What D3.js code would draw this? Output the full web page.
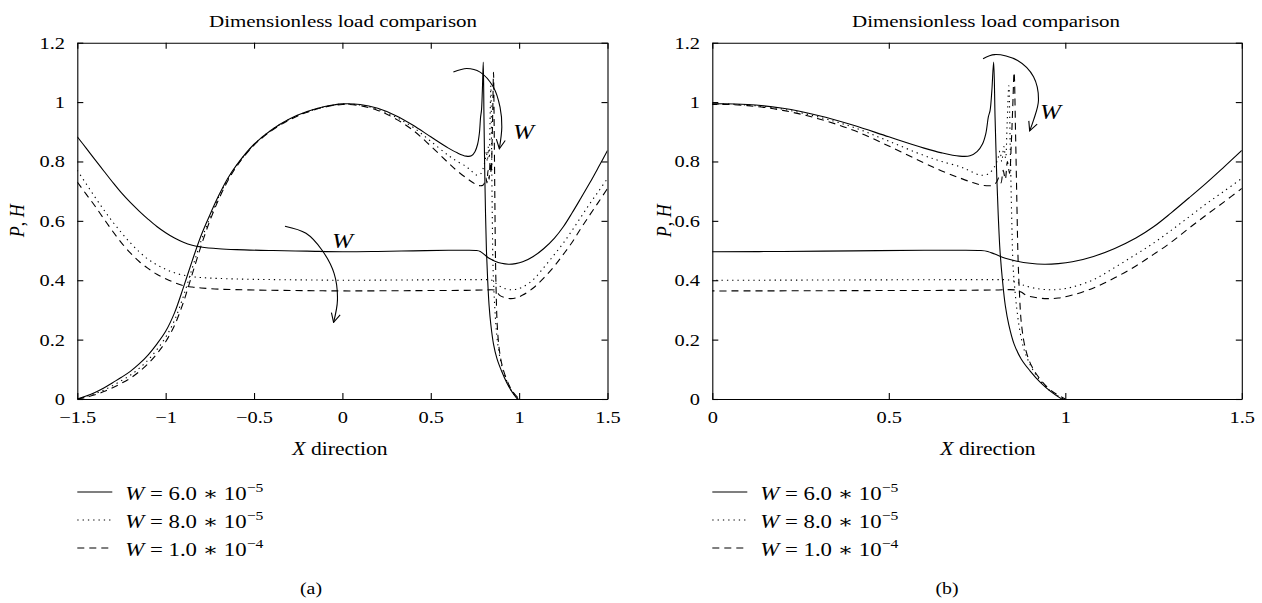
<!DOCTYPE html>
<html>
<head>
<meta charset="utf-8">
<script src="https://cdn.jsdelivr.net/npm/d3@7"></script>
<style>
body { margin: 0; background: #fff; }
text { font-family: "Liberation Serif", "DejaVu Serif", serif; fill: #000; }
</style>
</head>
<body>
<div id="plot"></div>
<script>
// pressure P, one array of [x, P] per load
let pressure60 = [[-1.5,0],[-1.45,0.01],[-1.4,0.022],[-1.35,0.037],[-1.3,0.055],[-1.25,0.073],[-1.2,0.093],[-1.15,0.118],[-1.1,0.148],[-1.05,0.185],[-1.0,0.228],[-0.95,0.29],[-0.9,0.375],[-0.85,0.465],[-0.8,0.55],[-0.75,0.62],[-0.7,0.685],[-0.65,0.742],[-0.6,0.787],[-0.5,0.858],[-0.4,0.907],[-0.3,0.943],[-0.2,0.968],[-0.1,0.985],[0,0.994],[0.1,0.992],[0.2,0.979],[0.3,0.955],[0.4,0.922],[0.5,0.883],[0.6,0.845],[0.65,0.829],[0.7,0.818],[0.73,0.819],[0.75,0.833],[0.765,0.858],[0.775,0.895],[0.782,0.95],[0.787,0.972],[0.792,1.04],[0.797,1.135],[0.801,0.95],[0.805,0.78],[0.81,0.62],[0.815,0.5],[0.822,0.4],[0.83,0.315],[0.84,0.25],[0.855,0.185],[0.875,0.135],[0.9,0.095],[0.93,0.055],[0.96,0.024],[0.99,0]];
let pressure80 = [[-1.5,0],[-1.45,0.008],[-1.4,0.018],[-1.35,0.03],[-1.3,0.045],[-1.25,0.062],[-1.2,0.08],[-1.15,0.103],[-1.1,0.131],[-1.05,0.166],[-1.0,0.208],[-0.95,0.265],[-0.9,0.345],[-0.85,0.44],[-0.8,0.532],[-0.75,0.61],[-0.7,0.68],[-0.65,0.738],[-0.6,0.785],[-0.5,0.857],[-0.4,0.906],[-0.3,0.942],[-0.2,0.967],[-0.1,0.984],[0,0.993],[0.1,0.99],[0.2,0.976],[0.3,0.95],[0.4,0.915],[0.5,0.868],[0.6,0.82],[0.65,0.8],[0.7,0.783],[0.73,0.768],[0.76,0.754],[0.78,0.757],[0.795,0.774],[0.808,0.805],[0.815,0.835],[0.82,0.8],[0.826,0.85],[0.831,0.81],[0.835,0.92],[0.84,1.055],[0.844,0.85],[0.848,0.62],[0.852,0.45],[0.857,0.37],[0.863,0.3],[0.872,0.225],[0.885,0.16],[0.905,0.105],[0.93,0.06],[0.96,0.025],[0.995,0]];
let pressure100 = [[-1.5,0],[-1.45,0.006],[-1.4,0.014],[-1.35,0.025],[-1.3,0.038],[-1.25,0.053],[-1.2,0.07],[-1.15,0.092],[-1.1,0.119],[-1.05,0.152],[-1.0,0.193],[-0.95,0.248],[-0.9,0.325],[-0.85,0.42],[-0.8,0.515],[-0.75,0.6],[-0.7,0.672],[-0.65,0.733],[-0.6,0.782],[-0.5,0.855],[-0.4,0.904],[-0.3,0.94],[-0.2,0.966],[-0.1,0.983],[0,0.992],[0.1,0.988],[0.2,0.972],[0.3,0.944],[0.4,0.905],[0.5,0.852],[0.6,0.795],[0.65,0.768],[0.7,0.745],[0.74,0.728],[0.77,0.719],[0.795,0.72],[0.805,0.73],[0.812,0.745],[0.818,0.728],[0.824,0.77],[0.83,0.74],[0.836,0.8],[0.842,0.76],[0.847,0.86],[0.851,0.98],[0.855,1.1],[0.859,0.9],[0.863,0.65],[0.866,0.48],[0.87,0.36],[0.876,0.25],[0.888,0.165],[0.905,0.11],[0.93,0.065],[0.96,0.028],[1.0,0]];

// film thickness H, one array of [x, H] per load
let film60 = [[-1.5,0.883],[-1.45,0.845],[-1.4,0.806],[-1.35,0.768],[-1.3,0.73],[-1.25,0.694],[-1.2,0.662],[-1.15,0.633],[-1.1,0.606],[-1.05,0.581],[-1.0,0.56],[-0.95,0.542],[-0.9,0.528],[-0.85,0.518],[-0.8,0.512],[-0.7,0.506],[-0.6,0.503],[-0.4,0.5],[-0.2,0.498],[0,0.496],[0.2,0.497],[0.4,0.499],[0.6,0.501],[0.7,0.501],[0.76,0.5],[0.78,0.497],[0.8,0.488],[0.83,0.474],[0.86,0.465],[0.9,0.457],[0.94,0.454],[0.98,0.456],[1.02,0.462],[1.08,0.48],[1.14,0.507],[1.2,0.542],[1.25,0.58],[1.3,0.627],[1.35,0.677],[1.4,0.728],[1.45,0.782],[1.5,0.837]];
let film80 = [[-1.5,0.77],[-1.45,0.725],[-1.4,0.68],[-1.35,0.637],[-1.3,0.597],[-1.25,0.56],[-1.2,0.526],[-1.15,0.496],[-1.1,0.471],[-1.05,0.452],[-1.0,0.437],[-0.95,0.425],[-0.9,0.417],[-0.85,0.412],[-0.8,0.409],[-0.7,0.406],[-0.5,0.403],[-0.2,0.401],[0,0.4],[0.4,0.401],[0.7,0.402],[0.8,0.402],[0.84,0.401],[0.86,0.395],[0.88,0.384],[0.91,0.374],[0.95,0.368],[0.98,0.369],[1.02,0.377],[1.08,0.402],[1.14,0.443],[1.2,0.487],[1.25,0.525],[1.3,0.568],[1.35,0.613],[1.4,0.658],[1.45,0.7],[1.5,0.743]];
let film100 = [[-1.5,0.731],[-1.45,0.69],[-1.4,0.65],[-1.35,0.607],[-1.3,0.565],[-1.25,0.526],[-1.2,0.492],[-1.15,0.463],[-1.1,0.44],[-1.05,0.42],[-1.0,0.405],[-0.95,0.392],[-0.9,0.382],[-0.85,0.377],[-0.8,0.374],[-0.7,0.37],[-0.5,0.367],[-0.2,0.365],[0,0.364],[0.4,0.365],[0.7,0.366],[0.8,0.367],[0.86,0.367],[0.875,0.36],[0.89,0.349],[0.92,0.341],[0.95,0.338],[0.98,0.34],[1.02,0.35],[1.08,0.374],[1.14,0.408],[1.2,0.448],[1.25,0.487],[1.3,0.528],[1.35,0.575],[1.4,0.62],[1.45,0.664],[1.5,0.709]];

let loadMantissa = ["6.0", "8.0", "1.0"];
let loadExponent = ["\u22125", "\u22125", "\u22124"];

let xTicksA = [-1.5, -1, -0.5, 0, 0.5, 1, 1.5];
let xTicksB = [0, 0.5, 1, 1.5];
let yTicks = [0, 0.2, 0.4, 0.6, 0.8, 1, 1.2];

// "W" arrows, in data coordinates
let arrowsA = [
    [[0.628,1.101],[0.704,1.113],[0.779,1.101],[0.854,1.051],[0.892,0.983],[0.902,0.916],[0.888,0.843]],
    [[-0.325,0.582],[-0.206,0.558],[-0.115,0.501],[-0.047,0.423],[-0.028,0.333],[-0.05,0.258]]
];
let arrowLabelsA = [[1.024, 0.877], [0.0, 0.508]];
let arrowsB = [
    [[0.767,1.146],[0.80,1.16],[0.865,1.14],[0.91,1.085],[0.924,1.006],[0.91,0.939],[0.899,0.903]]
];
let arrowLabelsB = [[0.958, 0.944]];

let series = [
    { dash: null },
    { dash: "1.3,4" },
    { dash: "7,5" }
];
let pressures = [pressure60, pressure80, pressure100];
let films = [film60, film80, film100];

let width = 1262;
let height = 603;
let stretch = 1.2; // the reference is drawn slightly wide
let yTop = 42.7;
let yBottom = 399;

let panels = [
    { left: 77.3, right: 607.5, domain: [-1.5, 1.5], ticks: xTicksA, titleX: 343, labelX: 340,
      yLabelX: 23.5, tag: "(a)", tagX: 311, arrows: arrowsA, arrowLabels: arrowLabelsA },
    { left: 712.3, right: 1241.8, domain: [0, 1.5], ticks: xTicksB, titleX: 986, labelX: 988,
      yLabelX: 671, tag: "(b)", tagX: 947, arrows: arrowsB, arrowLabels: arrowLabelsB }
];

let svg = d3.select("#plot")
    .append("svg")
    .attr("width", width)
    .attr("height", height);

svg.append("rect").attr("width", width).attr("height", height).attr("fill", "#fff");

svg.append("defs").append("marker")
    .attr("id", "head")
    .attr("viewBox", "-11 -6 12 12")
    .attr("refX", 0)
    .attr("refY", 0)
    .attr("markerWidth", 12)
    .attr("markerHeight", 12)
    .attr("markerUnits", "userSpaceOnUse")
    .attr("orient", "auto")
    .append("path")
    .attr("d", "M-9,-4.5L0,0L-9,4.5")
    .attr("fill", "none")
    .attr("stroke", "#000")
    .attr("stroke-width", 1.1);

function fmt(d) {
    return (d < 0 ? "\u2212" : "") + Math.abs(d);
}

function styleAxis(g, fontSize) {
    g.attr("font-family", null).attr("font-size", fontSize);
    g.select(".domain").attr("stroke", "#000").attr("stroke-width", 1.1);
    g.selectAll(".tick line").attr("stroke", "#000").attr("stroke-width", 1.1);
    g.selectAll(".tick text").attr("transform", "scale(" + stretch + ",1)");
}

function stretchedText(parent, x, y, size) {
    return parent.append("text")
        .attr("transform", "translate(" + x + "," + y + ") scale(" + stretch + ",1)")
        .attr("font-size", size);
}

panels.forEach(function (p, i) {
    let xScale = d3.scaleLinear().domain(p.domain).range([p.left, p.right]);
    let yScale = d3.scaleLinear().domain([0, 1.2]).range([yBottom, yTop]);
    let g = svg.append("g");

    svg.select("defs").append("clipPath")
        .attr("id", "clip" + i)
        .append("rect")
        .attr("x", p.left).attr("y", yTop)
        .attr("width", p.right - p.left).attr("height", yBottom - yTop);

    let line = d3.line()
        .x(d => xScale(d[0]))
        .y(d => yScale(d[1]))
        .curve(d3.curveCatmullRom.alpha(0.5));

    let curves = g.append("g").attr("clip-path", "url(#clip" + i + ")");
    [films, pressures].forEach(function (group) {
        group.forEach(function (values, k) {
            curves.append("path")
                .datum(values)
                .attr("d", line)
                .attr("fill", "none")
                .attr("stroke", "#000")
                .attr("stroke-width", 1.1)
                .attr("stroke-dasharray", series[k].dash);
        });
    });

    // box with inward ticks on all four sides
    g.append("g").attr("transform", "translate(0," + yBottom + ")")
        .call(d3.axisBottom(xScale).tickValues(p.ticks).tickSize(-6).tickSizeOuter(0)
            .tickPadding(11.5).tickFormat(fmt))
        .call(styleAxis, 17);
    g.append("g").attr("transform", "translate(0," + yTop + ")")
        .call(d3.axisTop(xScale).tickValues(p.ticks).tickSize(-6).tickSizeOuter(0).tickFormat(""))
        .call(styleAxis, 17);
    g.append("g").attr("transform", "translate(" + p.left + ",0)")
        .call(d3.axisLeft(yScale).tickValues(yTicks).tickSize(-6).tickSizeOuter(0)
            .tickPadding(10.25).tickFormat(fmt))
        .call(styleAxis, 17);
    g.append("g").attr("transform", "translate(" + p.right + ",0)")
        .call(d3.axisRight(yScale).tickValues(yTicks).tickSize(-6).tickSizeOuter(0).tickFormat(""))
        .call(styleAxis, 17);

    stretchedText(g, p.titleX, 27, 17.5)
        .attr("text-anchor", "middle")
        .text("Dimensionless load comparison");

    let xLabel = stretchedText(g, p.labelX, 455, 18).attr("text-anchor", "middle");
    xLabel.append("tspan").attr("font-style", "italic").text("X");
    xLabel.append("tspan").text(" direction");

    let yLabel = g.append("text")
        .attr("transform", "translate(" + p.yLabelX + "," + ((yTop + yBottom) / 2) + ") scale(" + stretch + ",1) rotate(-90)")
        .attr("font-size", 18)
        .attr("text-anchor", "middle");
    yLabel.append("tspan").attr("font-style", "italic").text("P");
    yLabel.append("tspan").text(", ");
    yLabel.append("tspan").attr("font-style", "italic").text("H");

    // arrows marking increasing load
    let arrowLine = d3.line()
        .x(d => xScale(d[0]))
        .y(d => yScale(d[1]))
        .curve(d3.curveCatmullRom.alpha(0.5));
    p.arrows.forEach(function (pts) {
        g.append("path")
            .attr("d", arrowLine(pts))
            .attr("fill", "none")
            .attr("stroke", "#000")
            .attr("stroke-width", 1.1)
            .attr("marker-end", "url(#head)");
    });
    p.arrowLabels.forEach(function (pt) {
        stretchedText(g, xScale(pt[0]), yScale(pt[1]), 21)
            .attr("text-anchor", "middle")
            .attr("font-style", "italic")
            .text("W");
    });

    // legend under the axes
    series.forEach(function (s, k) {
        let rowY = 492 + k * 28;
        g.append("line")
            .attr("x1", p.left).attr("x2", p.left + 35)
            .attr("y1", rowY).attr("y2", rowY)
            .attr("stroke", "#000")
            .attr("stroke-width", 1.1)
            .attr("stroke-dasharray", s.dash);
        let label = stretchedText(g, p.left + 48, rowY + 8, 19);
        label.append("tspan").attr("font-style", "italic").text("W");
        label.append("tspan").text(" = " + loadMantissa[k] + " \u2217 10");
        label.append("tspan").attr("font-size", 13).attr("dy", -8).text(loadExponent[k]);
    });

    stretchedText(g, p.tagX, 594, 16.5)
        .attr("text-anchor", "middle")
        .text(p.tag);
});
</script>
</body>
</html>
